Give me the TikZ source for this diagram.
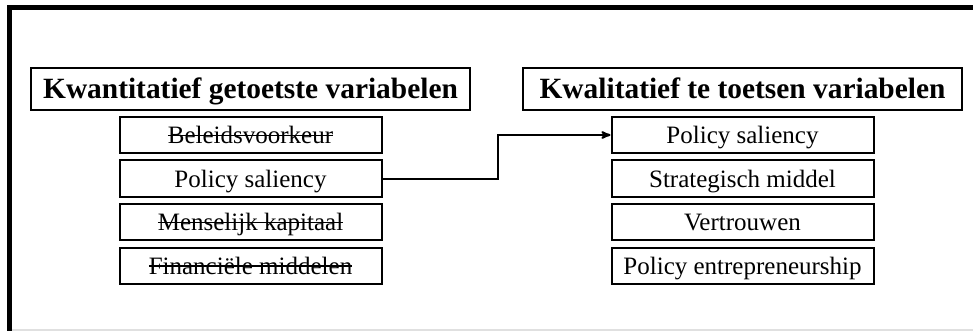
\documentclass[tikz,border=0pt]{standalone}
\usepackage{fontspec}
\setmainfont{Liberation Serif}
\usetikzlibrary{arrows,positioning}
\newsavebox{\strkbox}
\newcommand{\strk}[1]{\sbox{\strkbox}{#1}\rlap{\usebox{\strkbox}}\rule[0.3em]{\wd\strkbox}{1.2pt}}

\begin{document}
\begin{tikzpicture}[->,>=stealth',x=1pt,y=-1pt,node distance=5.5pt,
 line width=2pt,
 headbox/.style={draw, -, minimum width=439pt, minimum height=42pt, inner sep=0pt,
   text height=20pt, text depth=0pt, font=\fontsize{29.4}{32}\selectfont\bfseries},
 varbox/.style={draw, -, minimum width=262pt, minimum height=36pt, inner sep=0pt,
   text height=17pt, text depth=0pt, font=\fontsize{25}{28}\selectfont}]
\useasboundingbox (0,0) rectangle (973,331);
% frame
\draw[-, line width=5pt] (9.5,331) -- (9.5,7.5) -- (975,7.5);
\draw[-, line width=2pt, black!12] (12,330) -- (973,330);
% quantitative side
\node[headbox] (kwant) at (250.5, 89) {Kwantitatief getoetste variabelen};
\node[varbox, below=5pt of kwant] (l1) {\strk{Beleidsvoorkeur}};
\node[varbox, below=of l1] (l2) {Policy saliency};
\node[varbox, below=of l2] (l3) {\strk{Menselijk kapitaal}};
\node[varbox, below=of l3] (l4) {\strk{Financiële middelen}};
% qualitative side
\node[headbox] (kwal) at (742.5, 89) {Kwalitatief te toetsen variabelen};
\node[varbox, below=5pt of kwal] (r1) {Policy saliency};
\node[varbox, below=of r1] (r2) {Strategisch middel};
\node[varbox, below=of r2] (r3) {Vertrouwen};
\node[varbox, below=of r3] (r4) {Policy entrepreneurship};
\draw (l2.east) -- ++(115,0) |- (r1.west);
\end{tikzpicture}
\end{document}
